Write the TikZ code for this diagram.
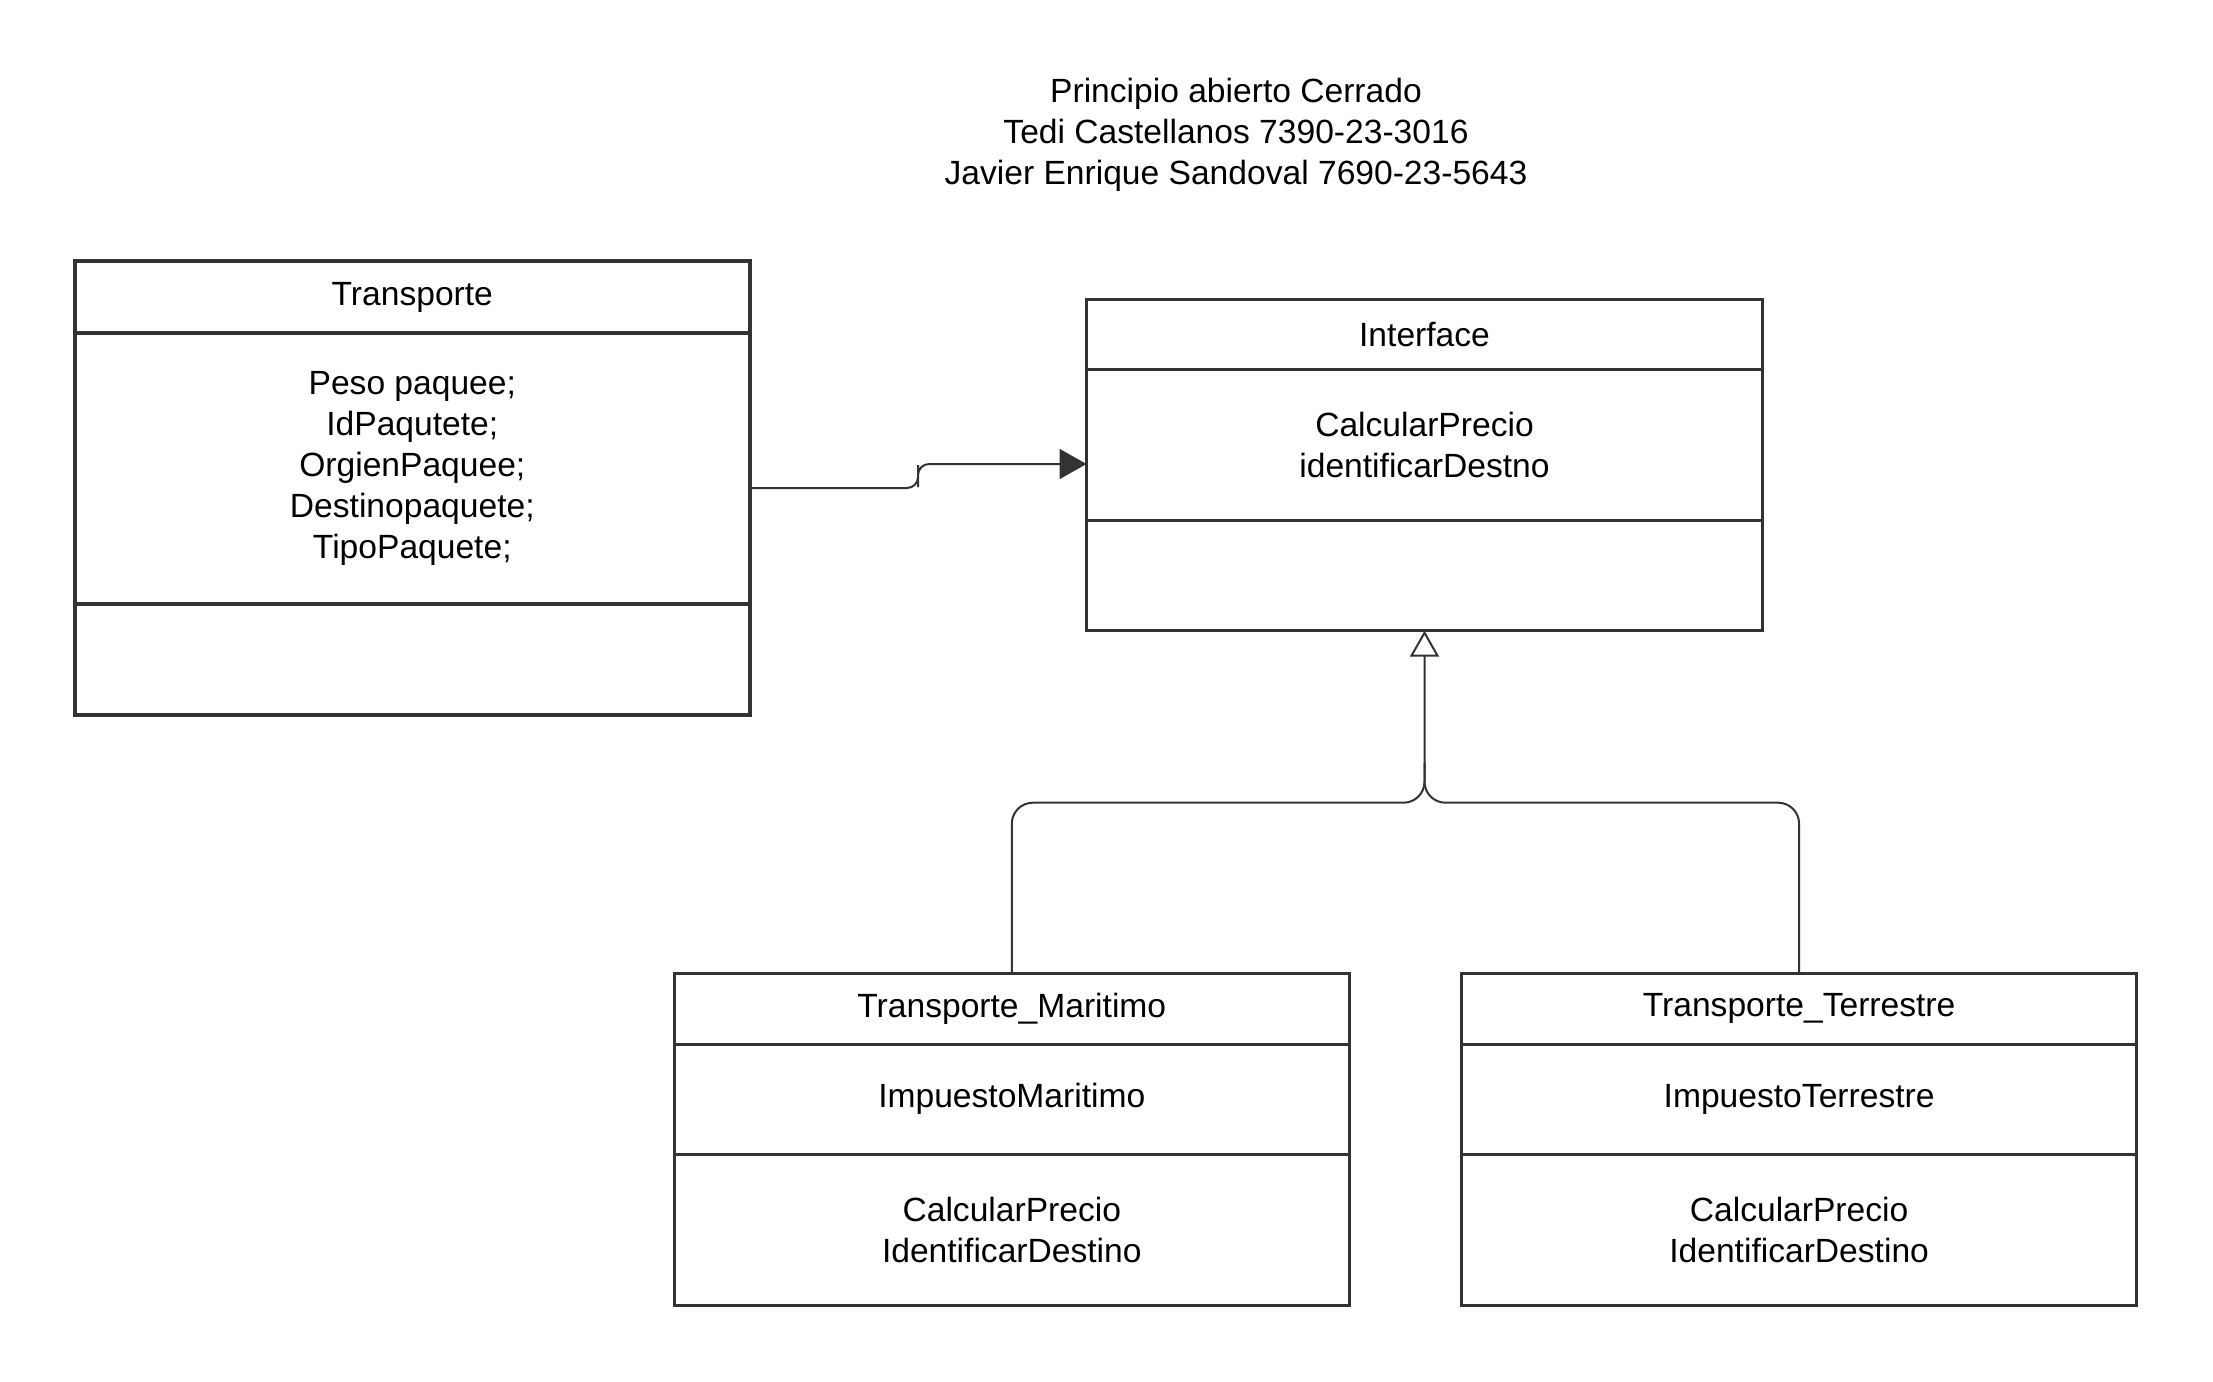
\documentclass[tikz,border=0pt]{standalone}
\usepackage{fontspec}
\setmainfont{Liberation Sans}
\usetikzlibrary{arrows.meta,calc}
\definecolor{lc}{HTML}{333333}
\begin{document}
\begin{tikzpicture}[x=0.5pt,y=-0.5pt,
  font=\fontsize{16.8pt}{20.5pt}\selectfont,
  cbox/.style={draw=lc, line width=1.5pt, inner sep=0pt, outer sep=0pt, anchor=north west, align=center, minimum width=337.3pt},
  tbox/.style={cbox, line width=1.9pt},
  conn/.style={draw=lc, line width=1pt}]
\useasboundingbox (0,0) rectangle (2213,1382);
\fill[white] (0,0) rectangle (2213,1382);

\node[align=center] (title) at (1236,135) {Principio abierto Cerrado\\Tedi Castellanos 7390-23-3016\\Javier Enrique Sandoval 7690-23-5643};

% Transporte
\node[tbox, minimum height=36pt] (tH) at (75,261) {Transporte};
\node[tbox, minimum height=135.5pt] (tA) at (75,333) {Peso paquee;\\IdPaqutete;\\OrgienPaquee;\\Destinopaquete;\\TipoPaquete;};
\node[tbox, minimum height=55.5pt] (tM) at (75,604) {};

% Interface
\node[cbox, minimum width=338pt, minimum height=35.35pt] (iH) at (1086.5,299) {Interface};
\node[cbox, minimum width=338pt, minimum height=75.5pt] (iA) at (1086.5,369.7) {CalcularPrecio\\identificarDestno};
\node[cbox, minimum width=338pt, minimum height=55pt] (iM) at (1086.5,520.7) {};

% Transporte_Maritimo
\node[cbox, minimum height=35.2pt] (mH) at (674.5,973.6) {Transporte\_Maritimo};
\node[cbox, minimum height=55pt] (mA) at (674.5,1044) {ImpuestoMaritimo};
\node[cbox, minimum height=75.5pt] (mM) at (674.5,1154) {CalcularPrecio\\IdentificarDestino};

% Transporte_Terrestre
\node[cbox, minimum height=35.2pt] (sH) at (1461.8,973.6) {Transporte\_Terrestre};
\node[cbox, minimum height=55pt] (sA) at (1461.8,1044) {ImpuestoTerrestre};
\node[cbox, minimum height=75.5pt] (sM) at (1461.8,1154) {CalcularPrecio\\IdentificarDestino};

% association
\coordinate (c1) at ([yshift=-9.75pt]tA.east);
\coordinate (c2) at ([yshift=-9.4pt]iA.west);
\coordinate (cm) at ($(c1)!.5!(c2)$);
\draw[conn, rounded corners=5.5pt, -{Triangle[length=13.5pt,width=15pt]}] (c1) -| (cm) |- (c2);

% generalization
\coordinate (jn) at ($(iM.south)+(0,172)$);
\draw[conn, rounded corners=10.5pt] (sH.north) |- (jn) -- ($(jn)+(0,-40)$);
\draw[conn, rounded corners=10.5pt, -{Triangle[open,length=13pt,width=14.5pt,fill=white]}] (mH.north) |- (jn) -- (iM.south);
\end{tikzpicture}
\end{document}
